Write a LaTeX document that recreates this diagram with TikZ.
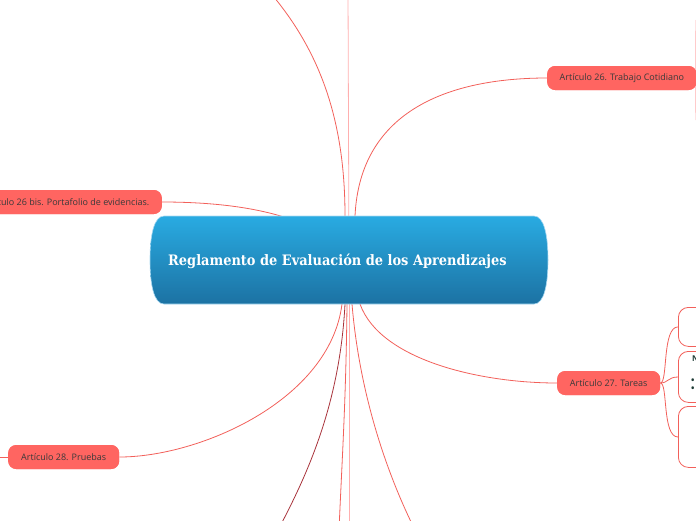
\documentclass[tikz,border=0pt]{standalone}
\usepackage{fontspec}
\setmainfont{Open Sans}
\newfontfamily\titlefont[FakeStretch=0.9]{DejaVu Serif}
\usetikzlibrary{calc}
\definecolor{nodered}{HTML}{FF6561}
\definecolor{linered}{HTML}{F2605A}
\definecolor{linepink}{HTML}{FFAFAF}
\definecolor{linedark}{HTML}{A8323A}
\definecolor{blueTop}{HTML}{29ABE2}
\definecolor{blueBot}{HTML}{1C72A3}
\definecolor{blueEdge}{HTML}{A9D9F2}
\definecolor{txtgray}{HTML}{3A3A3A}
\definecolor{txtgreen}{HTML}{1E3B35}
\tikzset{
  art/.style={fill=nodered, draw=none, rounded corners=8pt, minimum height=24pt,
    inner xsep=12.5pt, inner ysep=0pt, text=txtgray, font=\fontsize{9}{10}\selectfont},
  conn/.style={draw=linered, line width=0.8pt},
  connpink/.style={draw=linepink, line width=0.8pt},
  conndark/.style={draw=linedark, line width=0.8pt},
  childbox/.style={draw=linered, line width=0.8pt, fill=white, rounded corners=10pt},
}
\begin{document}
\begin{tikzpicture}[x=1pt,y=-1pt]
\useasboundingbox (0,0) rectangle (696,520);
\begin{scope}
\clip (0,0) rectangle (696,520);
% coordinates
\coordinate (c) at (349,260);
\coordinate (topA) at (268,-10);
\coordinate (topB) at (348,-10);
\coordinate (botA) at (278,530);
\coordinate (botB) at (339,530);
\coordinate (botC) at (349,530);
\coordinate (botD) at (415,530);
\coordinate (lstub) at (-2,457);
% article nodes
\node[art, anchor=east] (port) at (162,202) {Artículo 26 bis. Portafolio de evidencias.};
\node[art, anchor=west, minimum width=148pt] (trab) at (547,78) {Artículo 26. Trabajo Cotidiano};
\node[art, anchor=west, minimum width=103pt] (tar) at (557,383) {Artículo 27. Tareas};
\node[art, anchor=west, minimum width=111pt] (prue) at (8,457) {Artículo 28. Pruebas};
% connectors
\path[conn] (c) -- (345,216) .. controls (345,120) and (320,50) .. (topA);
\path[connpink] (c) -- (topB);
\path[conn] (c) -- (355,216) .. controls (360,110) and (450,78) .. (trab.west);
\path[conn] (port.east) .. controls (240,202) and (320,215) .. (c);
\path[conn] (c) -- (342,304) .. controls (330,400) and (200,457) .. (prue.east);
\path[conndark] (c) -- (345,304) .. controls (340,400) and (310,470) .. (botA);
\path[conn] (c) -- (347,304) .. controls (346,400) and (342,460) .. (botB);
\path[connpink] (c) -- (botC);
\path[conn] (c) -- (352,304) .. controls (360,400) and (390,480) .. (botD);
\path[conn] (c) -- (360,304) .. controls (380,360) and (480,383) .. (tar.west);
\coordinate (trU) at (696,20);
\coordinate (trD) at (696,120);
\path[connpink] (trab.east) .. controls (695.5,70) .. (trU);
\path[connpink] (trab.east) .. controls (695.5,86) .. (trD);
\path[conn] (prue.west) -- (lstub);
% Tareas children
\node[childbox, anchor=north west, minimum width=60pt, minimum height=39pt] (ch1) at (678,307) {};
\node[childbox, anchor=north west, minimum width=60pt, minimum height=51pt] (ch2) at (678,351) {};
\node[childbox, anchor=north west, minimum width=60pt, minimum height=61pt] (ch3) at (678,406) {};
\coordinate (j1) at (ch1.west);
\coordinate (j2) at ($(ch2.north west)+(0,26)$);
\coordinate (j3) at ($(ch3.north west)+(0,31)$);
\path[conn] (tar.east) .. controls (668,383) and (662,327) .. (j1);
\path[conn] (tar.east) .. controls (668,383) and (668,377) .. (j2);
\path[conn] (tar.east) .. controls (668,383) and (662,437) .. (j3);
\node[anchor=west, inner sep=0pt, text=txtgreen, font=\bfseries\fontsize{8}{9}\selectfont] (n1) at (692,359) {N};
\node[anchor=west, inner sep=0pt, text=txtgreen, font=\bfseries\fontsize{9}{9}\selectfont] (b1) at (691,381) {•};
\node[anchor=west, inner sep=0pt, text=txtgreen, font=\bfseries\fontsize{9}{9}\selectfont] (b2) at (691,389) {•};
% redraw article nodes on top of connectors
\node[art, anchor=east] at (162,202) {Artículo 26 bis. Portafolio de evidencias.};
\node[art, anchor=west, minimum width=148pt] at (547,78) {Artículo 26. Trabajo Cotidiano};
\node[art, anchor=west, minimum width=103pt] at (557,383) {Artículo 27. Tareas};
\node[art, anchor=west, minimum width=111pt] at (8,457) {Artículo 28. Pruebas};
% central node
\shade[top color=blueTop, bottom color=blueBot, draw=blueEdge, line width=0.6pt]
  (164,216) -- (534,216)
  .. controls (544,216) and (548,235) .. (548,260)
  .. controls (548,285) and (544,304) .. (534,304)
  -- (164,304)
  .. controls (154,304) and (150,285) .. (150,260)
  .. controls (150,235) and (154,216) .. cycle;
\node[anchor=west, inner sep=0pt, text=white, font=\titlefont\bfseries\fontsize{14.4}{16}\selectfont] (title) at (168,261) {Reglamento de Evaluación de los Aprendizajes};
\end{scope}
\end{tikzpicture}
\end{document}
